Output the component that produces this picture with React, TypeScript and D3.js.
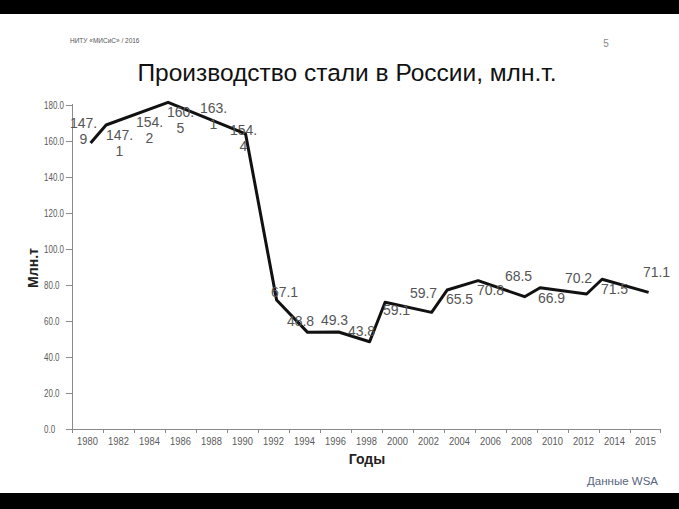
import React from 'react';
import * as d3 from 'd3';

// ---- data ----
const categories = ['1980','1982','1984','1986','1988','1990','1992','1994','1996','1998','2000','2002','2004','2006','2008','2010','2012','2014','2015'];
const labelTexts = ['147.9','147.1','154.2','160.5','163.1','154.4','67.1','48.8','49.3','43.8','59.1','59.7','65.5','70.8','68.5','66.9','70.2','71.5','71.1'];
const lineYears = [1980,1981,1985,1990,1992,1994,1996,1998,1999,2002,2003,2005,2008,2009,2012,2013,2016];
const lineValues = [158.9,168.9,181.5,163.9,71.7,53.7,53.9,48.5,70.4,64.8,77.2,82.4,73.5,78.5,75.0,83.2,75.9];
const yTicks = [0,20,40,60,80,100,120,140,160,180];

// label placement offsets relative to the line (px)
const labelDx = [-4,1,0,0,2,1,11,-4,-1,-5,-1,-5,0,0,-3,-1,-5,0,11];
const labelDy = [-23,15,13,5,-12,-3,9,-8,-12,-10,5,-19,13,5,-20,9,-15,6,-19];

const W = 679, H = 509;
const left = 72, right = 661, top = 105, bottom = 429;

export default function App() {
  const band = d3.scaleBand().domain(categories).range([left, right]).padding(0);
  const bw = band.bandwidth();
  const y = d3.scaleLinear().domain([0, 180]).range([bottom, top]);
  const xLine = d3.scaleLinear().domain([1980, 2016]).range([left + 0.6 * bw, left + 18.6 * bw]);
  const valueAt = d3.scaleLinear().domain(lineYears).range(lineValues);
  const pts = lineYears.map((yr, i) => [xLine(yr), y(lineValues[i])] as [number, number]);
  const path = d3.line()(pts) || '';
  const axisColor = '#8a8a8a';
  const tickText = '#5a5a5a';
  const sans = "'Liberation Sans', Arial, sans-serif";

  return (
    <svg width={W} height={H} style={{ position: 'fixed', left: 0, top: 0, background: '#fff' }} fontFamily={sans}>
      <rect x={0} y={0} width={W} height={H} fill="#fff" />
      <rect x={0} y={0} width={W} height={14} fill="#000" />
      <rect x={0} y={493} width={W} height={16} fill="#000" />

      <text x={70} y={43} fontSize={6.5} fill="#555">НИТУ «МИСиС» / 2016</text>
      <text x={606} y={47} fontSize={10} fill="#888" textAnchor="middle">5</text>
      <text x={347} y={81} fontSize={24.5} fill="#111" textAnchor="middle">Производство стали в России, млн.т.</text>

      {/* y axis */}
      <line x1={left + 0.5} x2={left + 0.5} y1={top - 1} y2={bottom} stroke={axisColor} strokeWidth={1} />
      {yTicks.map(t => (
        <g key={t}>
          <line x1={left - 6} x2={left} y1={Math.round(y(t)) + 0.5} y2={Math.round(y(t)) + 0.5} stroke={axisColor} />
          <text transform={`translate(44,${y(t)}) scale(0.8,1)`} dy="0.35em" fontSize={10} fill={tickText}>{t.toFixed(1)}</text>
        </g>
      ))}

      {/* x axis */}
      <line x1={68} x2={right} y1={bottom + 0.5} y2={bottom + 0.5} stroke={axisColor} strokeWidth={1} />
      {categories.map(c => (
        <line key={'t' + c} x1={Math.round(band(c)!) + 0.5} x2={Math.round(band(c)!) + 0.5} y1={bottom} y2={bottom + 4} stroke={axisColor} />
      ))}
      <line x1={right - 0.5} x2={right - 0.5} y1={bottom} y2={bottom + 4} stroke={axisColor} />
      {categories.map(c => (
        <text key={c} transform={`translate(${band(c)! + bw / 2},${bottom + 12}) scale(0.85,1)`} dy="0.35em" fontSize={11} fill={tickText} textAnchor="middle">{c}</text>
      ))}

      {/* line */}
      <path d={path} fill="none" stroke="#111" strokeWidth={3} strokeLinejoin="round" />

      {/* data labels */}
      {labelTexts.map((t, i) => {
        const cx = band(categories[i])! + bw / 2;
        const cy = y(valueAt(xLine.invert(cx)));
        const lx = cx + labelDx[i];
        const ly = cy + labelDy[i];
        const wrap = parseFloat(t) >= 100;
        if (wrap) {
          const [a, b] = t.split('.');
          return (
            <text key={i} x={lx} y={ly} dy="0.35em" fontSize={14} fill="#555" textAnchor="middle">
              <tspan x={lx}>{a + '.'}</tspan>
              <tspan x={lx} dy={16}>{b}</tspan>
            </text>
          );
        }
        return (
          <text key={i} x={lx} y={ly} dy="0.35em" fontSize={14} fill="#555" textAnchor="middle">{t}</text>
        );
      })}

      {/* axis titles */}
      <text x={367} y={459} dy="0.35em" fontSize={14} fontWeight="bold" fill="#222" textAnchor="middle">Годы</text>
      <text transform="translate(33,268) rotate(-90)" dy="0.35em" fontSize={14} fontWeight="bold" fill="#222" textAnchor="middle">Млн.т</text>

      <text x={658} y={485} fontSize={11.5} fill="#56657f" textAnchor="end">Данные WSA</text>
    </svg>
  );
}
